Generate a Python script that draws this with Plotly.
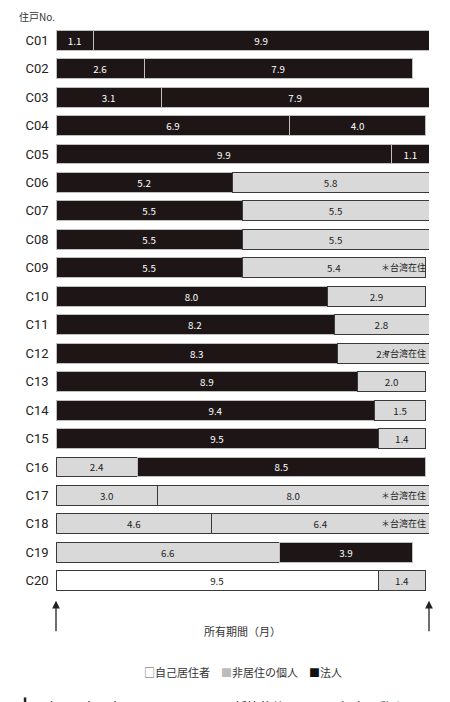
import plotly.graph_objects as go

units = ['C%02d' % i for i in range(1, 21)]
seg1 = [1.1, 2.6, 3.1, 6.9, 9.9, 5.2, 5.5, 5.5, 5.5, 8.0, 8.2, 8.3, 8.9, 9.4, 9.5, 2.4, 3.0, 4.6, 6.6, 9.5]
seg2 = [9.9, 7.9, 7.9, 4.0, 1.1, 5.8, 5.5, 5.5, 5.4, 2.9, 2.8, 2.7, 2.0, 1.5, 1.4, 8.5, 8.0, 6.4, 3.9, 1.4]
# owner type per segment: H = 法人, N = 非居住の個人, S = 自己居住者
type1 = ['H'] * 15 + ['N', 'N', 'N', 'N', 'S']
type2 = ['H'] * 5 + ['N'] * 10 + ['H', 'N', 'N', 'H', 'N']
taiwan = ['C09', 'C12', 'C17', 'C18']

fill = {'H': '#1e1616', 'N': '#d9d9d9', 'S': '#ffffff'}
edge = {'H': '#bfbfbf', 'N': '#3a3a3a', 'S': '#3a3a3a'}
tcol = {'H': '#ffffff', 'N': '#222222', 'S': '#222222'}

font = 'Noto Sans CJK JP'
fig = go.Figure()
for vals, types in [(seg1, type1), (seg2, type2)]:
    fig.add_trace(go.Bar(
        y=units, x=vals, orientation='h',
        text=['%.1f' % v for v in vals], textposition='inside',
        insidetextanchor='middle', textangle=0,
        textfont=dict(family=font, size=12, color=[tcol[t] for t in types]),
        marker=dict(color=[fill[t] for t in types],
                    line=dict(color=[edge[t] for t in types], width=1)),
        showlegend=False, hoverinfo='skip'))

for u in taiwan:
    fig.add_annotation(x=10.97, y=u, text='＊台湾在住', showarrow=False, xanchor='right',
                       font=dict(family=font, size=9, color='#222'))

for xa in [0, 11]:
    fig.add_annotation(x=xa, y=-0.01, xref='x', yref='paper', ax=0, ay=32, axref='pixel', ayref='pixel',
                       showarrow=True, arrowhead=2, arrowsize=1.2, arrowwidth=1.3, arrowcolor='#222', text='')
anns = [
    dict(x=-0.2, y=-0.075, text='新築時'),
    dict(x=5.5, y=-0.045, text='所有期間（月）'),
    dict(x=11.1, y=-0.075, text='新築から<br>11か月後'),
]
for a in anns:
    fig.add_annotation(x=a['x'], y=a['y'], xref='x', yref='paper', text=a['text'], showarrow=False,
                       xanchor='center', yanchor='top', align='center',
                       font=dict(family=font, size=11, color='#333'))

fig.add_annotation(x=0.5, y=-0.118, xref='paper', yref='paper', showarrow=False, yanchor='top',
                   text='<span style="color:#555">□</span>自己居住者　<span style="color:#bbb">■</span>非居住の個人　<span style="color:#111">■</span>法人',
                   font=dict(family=font, size=11, color='#333'))
fig.add_shape(type='line', xref='paper', yref='paper', x0=-0.083, x1=-0.083, y0=-0.18, y1=-0.245,
              line=dict(color='#222', width=2.5))
fig.add_annotation(x=-0.07, y=-0.175, xref='paper', yref='paper', showarrow=False, xanchor='left', yanchor='top',
                   text='図表1−5 大阪市西区Cマンションの新築後約11か月の転売の動き',
                   font=dict(family=font, size=13, color='#111'))
fig.add_annotation(x=-0.07, y=-0.213, xref='paper', yref='paper', showarrow=False, xanchor='left', yanchor='top',
                   text='データ出典：登記簿調査に基づき作成', font=dict(family=font, size=10.5, color='#444'))
fig.add_annotation(x=-0.105, y=1.0, xref='paper', yref='paper', showarrow=False, xanchor='left', yanchor='bottom',
                   text='住戸No.', font=dict(family=font, size=10, color='#333'))

fig.update_layout(
    width=450, height=702, barmode='stack', bargap=0.3,
    margin=dict(l=48, r=29, t=18, b=115),
    plot_bgcolor='white', paper_bgcolor='white',
    xaxis=dict(range=[0, 11], visible=False),
    yaxis=dict(autorange='reversed', showgrid=False, showline=False, ticks='',
               tickfont=dict(family='Roboto', size=13, color='#222'), ticksuffix='  '),
)
fig.write_html('out.html')
